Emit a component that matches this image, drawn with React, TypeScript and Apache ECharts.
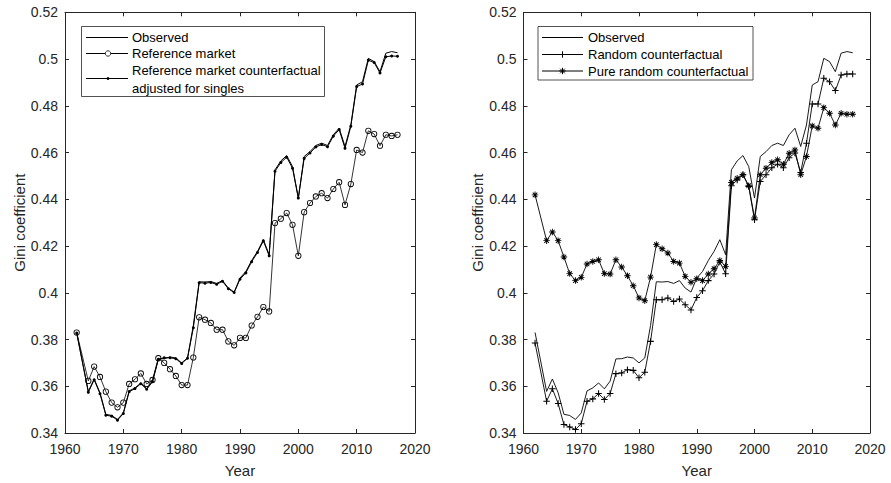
import React, { useEffect, useRef } from "react";
import * as echarts from "echarts";

const years = [1962, 1964, 1965, 1966, 1967, 1968, 1969, 1970, 1971, 1972, 1973, 1974, 1975, 1976, 1977, 1978, 1979, 1980, 1981, 1982, 1983, 1984, 1985, 1986, 1987, 1988, 1989, 1990, 1991, 1992, 1993, 1994, 1995, 1996, 1997, 1998, 1999, 2000, 2001, 2002, 2003, 2004, 2005, 2006, 2007, 2008, 2009, 2010, 2011, 2012, 2013, 2014, 2015, 2016, 2017];

const observed = [0.383, 0.3578, 0.3631, 0.3572, 0.348, 0.3475, 0.3458, 0.3486, 0.358, 0.3593, 0.3614, 0.3589, 0.3622, 0.3717, 0.3718, 0.3725, 0.3721, 0.37, 0.3721, 0.386, 0.4047, 0.4046, 0.4048, 0.404, 0.4052, 0.402, 0.4003, 0.4063, 0.4091, 0.4138, 0.4177, 0.4227, 0.4163, 0.4526, 0.4564, 0.4587, 0.454, 0.4405, 0.4583, 0.4604, 0.463, 0.464, 0.463, 0.4676, 0.4704, 0.4626, 0.4718, 0.4889, 0.4903, 0.5003, 0.4989, 0.4946, 0.5025, 0.5032, 0.5027];

const referenceMarket = [0.383, 0.3623, 0.3684, 0.364, 0.3577, 0.353, 0.351, 0.353, 0.361, 0.363, 0.3655, 0.361, 0.3627, 0.372, 0.37, 0.3673, 0.3644, 0.3605, 0.3605, 0.3723, 0.3895, 0.3885, 0.3871, 0.3842, 0.3842, 0.3792, 0.3775, 0.3807, 0.3807, 0.386, 0.3897, 0.3939, 0.392, 0.4298, 0.4317, 0.4341, 0.4291, 0.4158, 0.4345, 0.4384, 0.4412, 0.4426, 0.4405, 0.4444, 0.4473, 0.4376, 0.4465, 0.4611, 0.46, 0.4693, 0.4679, 0.4629, 0.4676, 0.4671, 0.4676];

const refCounterfactualSingles = [0.3828, 0.3574, 0.3628, 0.3568, 0.3476, 0.3472, 0.3455, 0.3483, 0.3577, 0.359, 0.3611, 0.3587, 0.3619, 0.3715, 0.3722, 0.3722, 0.3718, 0.3697, 0.372, 0.385, 0.4043, 0.4041, 0.4044, 0.4036, 0.4049, 0.4017, 0.4001, 0.4058, 0.4085, 0.4133, 0.4172, 0.4222, 0.4158, 0.452, 0.4557, 0.458, 0.4533, 0.4405, 0.4575, 0.4598, 0.4624, 0.4634, 0.4625, 0.467, 0.4698, 0.4618, 0.4712, 0.4882, 0.4893, 0.4995, 0.4985, 0.494, 0.501, 0.5013, 0.5012];

const randomCounterfactual = [0.3785, 0.3536, 0.3589, 0.3526, 0.3436, 0.3426, 0.3415, 0.344, 0.3536, 0.3546, 0.3569, 0.3543, 0.3569, 0.3654, 0.3657, 0.3671, 0.3668, 0.3636, 0.366, 0.3792, 0.397, 0.397, 0.3978, 0.3963, 0.3973, 0.3949, 0.3926, 0.398, 0.4009, 0.4052, 0.408, 0.4132, 0.4081, 0.4458, 0.4483, 0.4505, 0.4455, 0.4312, 0.4476, 0.4505, 0.4535, 0.455, 0.4535, 0.4578, 0.4598, 0.4515, 0.464, 0.4808, 0.4808, 0.4918, 0.4903, 0.4865, 0.4932, 0.4936, 0.4936];

const pureRandomCounterfactual = [0.4419, 0.4223, 0.426, 0.4223, 0.4153, 0.4082, 0.4052, 0.4066, 0.4123, 0.4134, 0.4141, 0.4082, 0.408, 0.4141, 0.411, 0.4073, 0.403, 0.3978, 0.3966, 0.4067, 0.4206, 0.4188, 0.417, 0.4134, 0.4127, 0.407, 0.4045, 0.406, 0.4052, 0.408, 0.4103, 0.4138, 0.4113, 0.4472, 0.449, 0.4505, 0.4458, 0.432, 0.4505, 0.4533, 0.4557, 0.4569, 0.455, 0.4597, 0.4611, 0.4505, 0.4583, 0.4714, 0.4704, 0.4792, 0.4768, 0.4718, 0.4768, 0.4764, 0.4764];

const leftLegend = ["Observed", "Reference market", "Reference market counterfactual", "adjusted for singles"];
const rightLegend = ["Observed", "Random counterfactual", "Pure random counterfactual"];

const FONT = '"Liberation Sans", Arial, Helvetica, sans-serif';
const AXC = "#262626";

const PLUS = "path://M-0.8,-5L0.8,-5L0.8,5L-0.8,5Z M-5,-0.8L5,-0.8L5,0.8L-5,0.8Z";
const STAR =
  "path://M-0.7,-5L0.7,-5L0.7,5L-0.7,5Z M-5,-0.7L5,-0.7L5,0.7L-5,0.7Z M-4.0,-3.0L-3.0,-4.0L4.0,3.0L3.0,4.0Z M3.0,-4.0L4.0,-3.0L-3.0,4.0L-4.0,3.0Z";
const RING =
  "path://M0,-5A5,5 0 1,1 0,5A5,5 0 1,1 0,-5Z M0,-3.65A3.65,3.65 0 1,0 0,3.65A3.65,3.65 0 1,0 0,-3.65Z";

const pairs = (arr: number[]) => years.map((y, i) => [y, arr[i]]);

function xAxes(grid: number) {
  const common = {
    gridIndex: grid,
    type: "value",
    min: 1960,
    max: 2020,
    interval: 10,
    splitLine: { show: false },
    axisLine: { show: true, lineStyle: { color: AXC, width: 1 } },
    axisTick: { show: true, inside: true, length: 4, lineStyle: { color: AXC, width: 1 } },
  };
  return [
    {
      ...common,
      position: "bottom",
      name: "Year",
      nameLocation: "middle",
      nameGap: 30,
      nameTextStyle: { fontSize: 15, color: AXC, fontFamily: FONT },
      axisLabel: { fontSize: 14, color: AXC, fontFamily: FONT, margin: 9, formatter: (v: number) => String(v) },
    },
    { ...common, position: "top", axisLabel: { show: false } },
  ];
}

function yAxes(grid: number) {
  const common = {
    gridIndex: grid,
    type: "value",
    min: 0.34,
    max: 0.52,
    interval: 0.02,
    splitLine: { show: false },
    axisLine: { show: true, lineStyle: { color: AXC, width: 1 } },
    axisTick: { show: true, inside: true, length: 4, lineStyle: { color: AXC, width: 1 } },
  };
  return [
    {
      ...common,
      position: "left",
      name: "Gini coefficient",
      nameLocation: "middle",
      nameGap: 37,
      nameTextStyle: { fontSize: 15, color: AXC, fontFamily: FONT },
      axisLabel: {
        fontSize: 14,
        color: AXC,
        fontFamily: FONT,
        margin: 7,
        formatter: (v: number) => String(parseFloat(v.toFixed(2))),
      },
    },
    { ...common, position: "right", axisLabel: { show: false } },
  ];
}

function lineSeries(name: string, data: number[], xi: number, yi: number, symbol: string, size: number, extra: any = {}) {
  return {
    name,
    type: "line",
    xAxisIndex: xi,
    yAxisIndex: yi,
    data: pairs(data),
    symbol,
    symbolSize: size,
    showSymbol: symbol !== "none",
    lineStyle: { color: "#000", width: 1 },
    itemStyle: { color: "#000", borderWidth: 0 },
    emphasis: { disabled: true },
    ...extra,
  };
}

function legendGraphics() {
  const els: any[] = [];
  const txt = (x: number, y: number, t: string) => ({
    type: "text",
    x,
    y,
    z: 110,
    style: { text: t, fill: "#000", font: `13px ${FONT}`, align: "left", verticalAlign: "middle", textAlign: "left", textVerticalAlign: "middle" },
  });
  const ln = (x1: number, y1: number, x2: number, y2: number, w = 1) => ({
    type: "line",
    z: 110,
    shape: { x1, y1, x2, y2 },
    style: { stroke: "#000", lineWidth: w },
  });
  // left legend
  els.push({ type: "rect", z: 100, shape: { x: 81.5, y: 26.5, width: 243, height: 70 }, style: { fill: "#fff", stroke: AXC, lineWidth: 0.8 } });
  els.push(ln(86, 37.5, 128, 37.5));
  els.push(txt(132, 37.5, leftLegend[0]));
  els.push(ln(86, 53.5, 128, 53.5));
  els.push({ type: "circle", z: 111, shape: { cx: 108, cy: 53.5, r: 2.7 }, style: { fill: "#fff", stroke: "#000", lineWidth: 0.8 } });
  els.push(txt(132, 53.5, leftLegend[1]));
  els.push(ln(86, 78.5, 128, 78.5));
  els.push({ type: "circle", z: 111, shape: { cx: 108, cy: 78.5, r: 1.4 }, style: { fill: "#000" } });
  els.push(txt(132, 70.5, leftLegend[2]));
  els.push(txt(132, 88, leftLegend[3]));
  // right legend
  els.push({ type: "rect", z: 100, shape: { x: 538, y: 26.5, width: 215, height: 53.5 }, style: { fill: "#fff", stroke: AXC, lineWidth: 0.8 } });
  els.push(ln(542, 37.5, 583, 37.5));
  els.push(txt(588, 37.5, rightLegend[0]));
  els.push(ln(542, 54.5, 583, 54.5));
  els.push(ln(562.5, 51.3, 562.5, 57.7));
  els.push(ln(559.3, 54.5, 565.7, 54.5));
  els.push(txt(588, 54.5, rightLegend[1]));
  els.push(ln(542, 71, 583, 71));
  els.push(ln(562.5, 67.8, 562.5, 74.2));
  els.push(ln(559.3, 71, 565.7, 71));
  els.push(ln(560.2, 68.7, 564.8, 73.3));
  els.push(ln(564.8, 68.7, 560.2, 73.3));
  els.push(txt(588, 71, rightLegend[2]));
  return els;
}

export default function App() {
  const ref = useRef<HTMLDivElement>(null);
  useEffect(() => {
    if (!ref.current) return;
    const chart = echarts.init(ref.current, undefined, { renderer: "svg" });
    chart.setOption({
      animation: false,
      backgroundColor: "#fff",
      textStyle: { fontFamily: FONT },
      grid: [
        { left: 65, top: 12.3, width: 350, height: 421 },
        { left: 523.5, top: 12.3, width: 346.5, height: 421 },
      ],
      xAxis: [...xAxes(0), ...xAxes(1)],
      yAxis: [...yAxes(0), ...yAxes(1)],
      series: [
        lineSeries("Observed", observed, 0, 0, "none", 0),
        lineSeries("Reference market", referenceMarket, 0, 0, RING, 6.2, { lineStyle: { color: "#000", width: 0.8 } }),
        lineSeries("Reference market counterfactual adjusted for singles", refCounterfactualSingles, 0, 0, "circle", 3),
        lineSeries("Observed ", observed, 2, 2, "none", 0, { lineStyle: { color: "#000", width: 0.9 } }),
        lineSeries("Random counterfactual", randomCounterfactual, 2, 2, PLUS, 6.5, { lineStyle: { color: "#000", width: 0.9 } }),
        lineSeries("Pure random counterfactual", pureRandomCounterfactual, 2, 2, STAR, 6.5, { lineStyle: { color: "#000", width: 0.9 } }),
      ],
      graphic: legendGraphics(),
    });
    return () => chart.dispose();
  }, []);
  return (
    <div
      ref={ref}
      style={{ position: "fixed", left: 0, top: 0, width: 891, height: 483, background: "#fff" }}
    />
  );
}
